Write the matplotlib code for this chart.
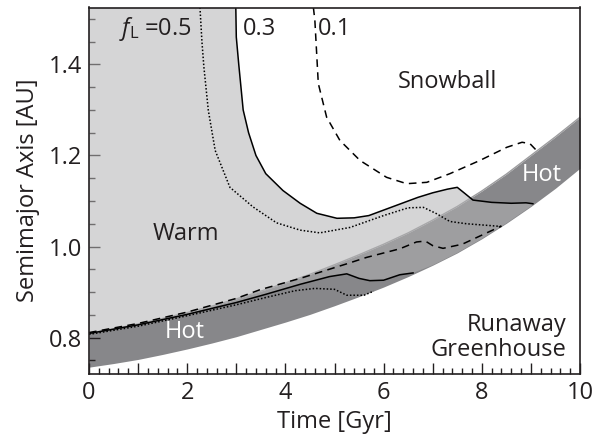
import matplotlib
matplotlib.use("Agg")
import matplotlib.pyplot as plt
from matplotlib.ticker import MultipleLocator, FuncFormatter

plt.rcParams['font.family'] = ['Open Sans', 'DejaVu Sans']
plt.rcParams['mathtext.fontset'] = 'custom'
plt.rcParams['mathtext.rm'] = 'Open Sans'
plt.rcParams['mathtext.it'] = 'Open Sans:italic'

# inner edge band (Hot), read every 0.5 Gyr
band_t = [0, 0.5, 1, 1.5, 2, 2.5, 3, 3.5, 4, 4.5, 5, 5.5, 6, 6.5, 7, 7.5, 8, 8.5, 9, 9.5, 10]
band_hi = [0.810, 0.819, 0.830, 0.842, 0.855, 0.869, 0.885, 0.902, 0.920, 0.939, 0.960,
           0.982, 1.005, 1.030, 1.058, 1.088, 1.122, 1.159, 1.200, 1.241, 1.284]
band_lo = [0.735, 0.743, 0.752, 0.763, 0.775, 0.788, 0.802, 0.818, 0.834, 0.851, 0.870,
           0.890, 0.911, 0.934, 0.959, 0.986, 1.017, 1.051, 1.088, 1.128, 1.172]

# f_L = 0.3 (solid)
s_up_t = [2.99, 3.00, 3.05, 3.14, 3.25, 3.40, 3.60, 3.95, 4.30, 4.64, 5.05, 5.40, 5.70,
          6.00, 6.35, 6.70, 7.00, 7.30, 7.50, 7.65, 7.82, 8.20, 8.60, 8.90, 9.04]
s_up_y = [1.525, 1.46, 1.40, 1.30, 1.25, 1.20, 1.16, 1.123, 1.095, 1.073, 1.062, 1.063, 1.068,
          1.080, 1.094, 1.108, 1.118, 1.126, 1.130, 1.117, 1.102, 1.097, 1.095, 1.096, 1.094]
s_lo_t = [0, 1, 2, 2.5, 3, 3.6, 4.3, 4.9, 5.25, 5.5, 5.72, 6.0, 6.33, 6.6]
s_lo_y = [0.809, 0.828, 0.851, 0.864, 0.877, 0.895, 0.917, 0.934, 0.940, 0.930, 0.925, 0.926, 0.938, 0.942]

# f_L = 0.5 (dotted)
d_up_t = [2.26, 2.30, 2.34, 2.43, 2.57, 2.87, 3.34, 3.82, 4.30, 4.70, 5.32, 6.00, 6.50,
          6.81, 7.08, 7.35, 7.69, 8.17, 8.40]
d_up_y = [1.525, 1.45, 1.394, 1.299, 1.211, 1.13, 1.087, 1.052, 1.036, 1.030, 1.042, 1.068, 1.085,
          1.086, 1.072, 1.055, 1.050, 1.046, 1.044]
d_lo_t = [0, 1, 2, 2.5, 3, 3.6, 4.2, 4.6, 5.0, 5.25, 5.6, 5.8]
d_lo_y = [0.807, 0.825, 0.848, 0.860, 0.872, 0.888, 0.903, 0.908, 0.906, 0.893, 0.893, 0.902]

# f_L = 0.1 (dashed)
a_up_t = [4.57, 4.60, 4.67, 4.84, 5.11, 5.52, 6.06, 6.47, 6.88, 7.35, 7.96, 8.51, 8.82, 8.98, 9.15]
a_up_y = [1.525, 1.497, 1.358, 1.284, 1.233, 1.189, 1.152, 1.138, 1.141, 1.160, 1.189, 1.218,
          1.229, 1.226, 1.207]
a_lo_t = [0, 1, 2, 3, 3.48, 4.3, 5.25, 5.65, 6.33, 6.67, 6.85, 7.0, 7.21, 7.6, 8.0, 8.4]
a_lo_y = [0.811, 0.831, 0.856, 0.886, 0.905, 0.930, 0.962, 0.976, 0.995, 1.010, 1.012, 1.002,
          0.996, 1.005, 1.025, 1.045]

y_top = 1.525
y_bot = 0.72

fig = plt.figure(figsize=(6.05, 4.41), dpi=100)
ax = fig.add_axes([89 / 605, 1 - 374 / 441, 491 / 605, 366.5 / 441])
ax.set_xlim(0, 10)
ax.set_ylim(y_bot, y_top)

# hot band
ax.fill_between(band_t, band_lo, band_hi, color='#87878a', lw=0, zorder=1)
ax.plot(band_t, band_hi, color='#9c9c9e', lw=1.0, zorder=1.5)

# warm region (f_L = 0.3) : top edge, solid upper branch, band lower edge, solid lower branch
px = [0] + s_up_t
py = [y_top] + s_up_y
for t, v in zip(band_t[::-1], band_lo[::-1]):
    if s_lo_t[-1] < t < s_up_t[-1]:
        px.append(t)
        py.append(v)
px += s_lo_t[::-1]
py += s_lo_y[::-1]
ax.fill(px, py, color='#b2b2b4', alpha=0.54, lw=0, zorder=2)

# contour lines
ax.plot(s_up_t, s_up_y, color='black', lw=1.1, zorder=3)
ax.plot(s_lo_t, s_lo_y, color='black', lw=1.1, zorder=3)
ax.plot(d_up_t, d_up_y, color='black', lw=1.1, ls=(0, (1, 1.3)), zorder=3)
ax.plot(d_lo_t, d_lo_y, color='black', lw=1.1, ls=(0, (1, 1.3)), zorder=3)
ax.plot(a_up_t, a_up_y, color='black', lw=1.1, ls=(0, (5, 3.5)), zorder=3)
ax.plot(a_lo_t, a_lo_y, color='black', lw=1.1, ls=(0, (5, 3.5)), zorder=3)

# labels inside
fs = 17
ax.text(0.62, 1.478, r'$f_{\rm L}$ =0.5', fontsize=fs, va='center', ha='left', color='#231f20')
ax.text(3.14, 1.478, '0.3', fontsize=fs, va='center', ha='left', color='#231f20')
ax.text(4.66, 1.478, '0.1', fontsize=fs, va='center', ha='left', color='#231f20')
ax.text(7.3, 1.362, 'Snowball', fontsize=fs, va='center', ha='center', color='#231f20')
ax.text(1.98, 1.027, 'Warm', fontsize=fs, va='center', ha='center', color='#231f20')
ax.text(1.96, 0.812, 'Hot', fontsize=fs, va='center', ha='center', color='white')
ax.text(9.23, 1.157, 'Hot', fontsize=fs, va='center', ha='center', color='white')
ax.text(9.73, 0.80, 'Runaway\nGreenhouse', fontsize=fs, va='center', ha='right',
        color='#231f20', linespacing=1.05)

# axes
ax.xaxis.set_major_locator(MultipleLocator(1))
ax.xaxis.set_minor_locator(MultipleLocator(0.2))
ax.xaxis.set_major_formatter(FuncFormatter(lambda v, p: '%d' % v if int(round(v)) % 2 == 0 else ''))
ax.yaxis.set_major_locator(MultipleLocator(0.2))
ax.yaxis.set_minor_locator(MultipleLocator(0.05))
ax.yaxis.set_major_formatter(FuncFormatter(lambda v, p: '%.1f' % v))
ax.tick_params(which='both', direction='in', top=False, right=False, color='#231f20',
               labelsize=fs, labelcolor='#231f20')
ax.tick_params(which='major', length=8, width=1.0, pad=5)
ax.tick_params(which='minor', length=4.5, width=1.0)
for sp in ax.spines.values():
    sp.set_linewidth(1.2)
    sp.set_color('#231f20')
    sp.set_zorder(5)

ax.set_xlabel('Time [Gyr]', fontsize=17, color='#231f20', va='center')
ax.set_ylabel('Semimajor Axis [AU]', fontsize=17, color='#231f20', va='center')
ax.xaxis.set_label_coords(0.5, -0.131)
ax.yaxis.set_label_coords(-0.124, 0.5)

fig.savefig('out.png', dpi=100)
